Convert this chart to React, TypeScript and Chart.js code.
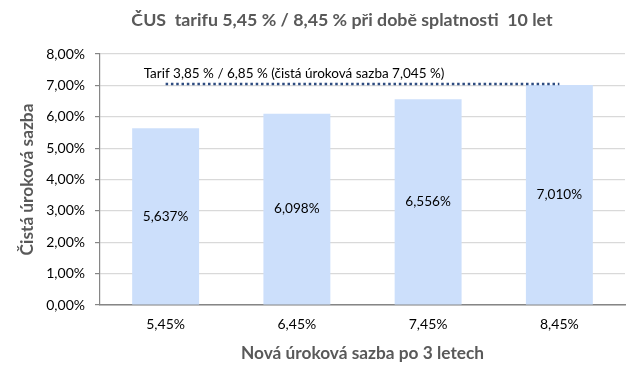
import React, { useEffect, useRef } from "react";
import { Chart, registerables } from "chart.js";

Chart.register(...registerables);

const chartTitle = "ČUS  tarifu 5,45 % / 8,45 % při době splatnosti  10 let";
const categories = ["5,45%", "6,45%", "7,45%", "8,45%"];
const netRates = [5.637, 6.098, 6.556, 7.01];
const netLabels = ["5,637%", "6,098%", "6,556%", "7,010%"];
const tariffLine = [7.045, 7.045, 7.045, 7.045];
const tariffLabel = "Tarif 3,85 % / 6,85 % (čistá úroková sazba 7,045 %)";
const yTitle = "Čistá úroková sazba";
const xTitle = "Nová úroková sazba po 3 letech";
const yMin = 0;
const yMax = 8;
const yStep = 1;

const FONT = "Lato";

export default function App() {
  const ref = useRef<HTMLCanvasElement | null>(null);

  useEffect(() => {
    document.body.style.margin = "0";
    const canvas = ref.current;
    if (!canvas) return;

    const overlay = {
      id: "overlay",
      afterDatasetsDraw(chart: any) {
        const ctx = chart.ctx;
        ctx.save();
        // main title
        ctx.fillStyle = "#595959";
        ctx.font = `bold 17.8px ${FONT}`;
        ctx.textAlign = "center";
        ctx.textBaseline = "middle";
        ctx.fillText(chartTitle, 342, 20);
        // bar labels
        const barMeta = chart.getDatasetMeta(0);
        ctx.fillStyle = "#000000";
        ctx.font = `13.6px ${FONT}`;
        barMeta.data.forEach((bar: any, i: number) => {
          const y = (bar.y + bar.base) / 2;
          ctx.fillText(netLabels[i], bar.x, y);
        });
        // tariff label
        const lineMeta = chart.getDatasetMeta(1);
        const p0 = lineMeta.data[0];
        ctx.textAlign = "left";
        ctx.font = `13.5px ${FONT}`;
        ctx.fillText(tariffLabel, p0.x - 22, p0.y - 10);
        ctx.restore();
      },
    };

    const chart = new Chart(canvas, {
      type: "bar",
      data: {
        labels: categories,
        datasets: [
          {
            type: "bar",
            data: netRates,
            backgroundColor: "#CCDFFB",
            borderWidth: 0,
            categoryPercentage: 1,
            barPercentage: 0.51,
            order: 2,
          } as any,
          {
            type: "line",
            data: tariffLine,
            borderColor: "#2E4C80",
            borderWidth: 2.5,
            borderDash: [2.5, 2.8],
            pointRadius: 0,
            fill: false,
            order: 1,
          } as any,
        ],
      },
      options: {
        animation: false,
        responsive: false,
        layout: { padding: { top: 54, right: 11, left: 0, bottom: 0 } },
        plugins: {
          legend: { display: false },
          tooltip: { enabled: false },
          title: { display: false },
        },
        scales: {
          x: {
            grid: { display: false, drawTicks: false },
            border: { color: "#868686", width: 1.5 },
            ticks: { color: "#000000", font: { family: FONT, size: 14 }, padding: 11 },
            title: {
              display: true,
              text: xTitle,
              color: "#595959",
              font: { family: FONT, size: 17.3, weight: "bold" },
              padding: { top: 13, bottom: 13 },
            },
            afterFit: (s: any) => {
              s.height = 72;
            },
          },
          y: {
            min: yMin,
            max: yMax,
            grid: { color: "#D9D9D9", tickLength: 5, tickColor: "#868686", lineWidth: 1.2 },
            border: { color: "#868686", width: 1.2 },
            ticks: {
              stepSize: yStep,
              color: "#000000",
              font: { family: FONT, size: 14 },
              padding: 10,
              callback: (v: any) => Number(v).toFixed(2).replace(".", ",") + "%",
            },
            title: {
              display: true,
              text: yTitle,
              color: "#595959",
              font: { family: FONT, size: 17.3, weight: "bold" },
              padding: { top: 17, bottom: 17 },
            },
            afterFit: (s: any) => {
              s.width = 100;
            },
          },
        },
      },
      plugins: [overlay],
    });

    return () => chart.destroy();
  }, []);

  return (
    <div style={{ position: "fixed", left: 0, top: 0, width: 636, height: 377, background: "#fff" }}>
      <canvas ref={ref} width={636} height={377} style={{ width: 636, height: 377, display: "block" }} />
    </div>
  );
}
